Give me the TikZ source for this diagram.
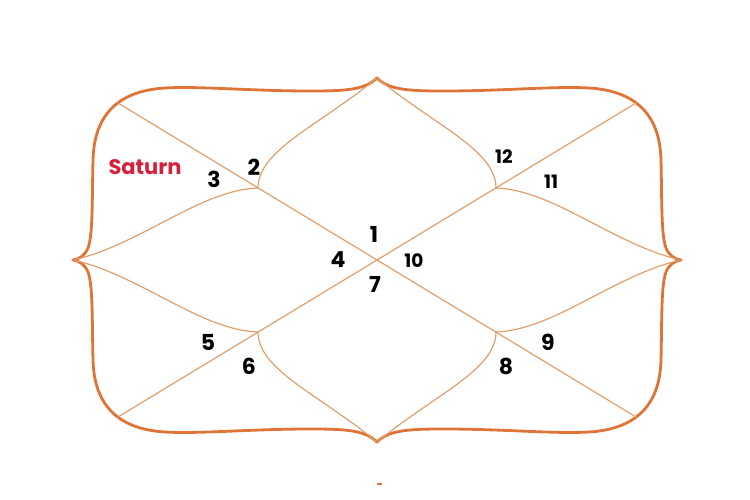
\documentclass[tikz,border=0pt]{standalone}
\usepackage{fontspec}
\setmainfont{Poppins}
\definecolor{framecol}{RGB}{222,116,54}
\definecolor{innercol}{RGB}{224,158,108}
\definecolor{satcol}{RGB}{214,32,58}
\tikzset{
  frameline/.style={draw=framecol,line width=2.8pt,line cap=round,line join=round},
  innerline/.style={draw=innercol,line width=1.2pt,line cap=round},
  num/.style={font=\fontsize{22}{24}\selectfont\bfseries,text=black,inner sep=0pt},
  numsmall/.style={font=\fontsize{18.5}{20}\selectfont\bfseries,text=black,inner sep=0pt},
  planet/.style={font=\fontsize{21}{23}\selectfont\bfseries,text=satcol,inner sep=0pt}
}
\begin{document}
\begin{tikzpicture}[x=1pt,y=1pt]
\useasboundingbox (0,0) rectangle (750,-500);
\begin{scope}[shift={(377,-260)}]
\foreach \sx/\sy in {1/1,-1/1,1/-1,-1/-1}{
  \begin{scope}[xscale=\sx,yscale=\sy]
    % frame quadrant
    \path[frameline] (0,182) .. controls (-12,170) and (-32,169) .. (-67,169)
      .. controls (-127,169) and (-177,174) .. (-212,172)
      .. controls (-262,169) and (-283,142) .. (-284,100)
      .. controls (-285,60) and (-284,25) .. (-289,12)
      .. controls (-292,5) and (-297,1) .. (-304,0);
    % diagonal
    \path[innerline] (-259,157) -- (0,0);
    % lens curves
    \path[innerline] (-119,72) .. controls (-119,110) and (-57,135) .. (0,182);
    \path[innerline] (-119,72) .. controls (-177,70) and (-237,15) .. (-304,0);
  \end{scope}
}
\node[planet] (sat) at (-232,93) {Saturn};
\node[num] (h1) at (-3,26) {1};
\node[num] (h2) at (-123,93) {2};
\node[num] (h3) at (-163,81) {3};
\node[num] (h4) at (-39,0) {4};
\node[num] (h5) at (-169,-82) {5};
\node[num] (h6) at (-128,-106) {6};
\node[num] (h7) at (-2,-24) {7};
\node[num] (h8) at (129,-106) {8};
\node[num] (h9) at (171,-82) {9};
\node[numsmall] (h10) at (37,-1) {10};
\node[numsmall] (h11) at (174,78) {11};
\node[numsmall] (h12) at (127,103) {12};
\path[draw=framecol,line width=1.5pt] (0,-224) -- (5,-224);
\end{scope}
\end{tikzpicture}
\end{document}
